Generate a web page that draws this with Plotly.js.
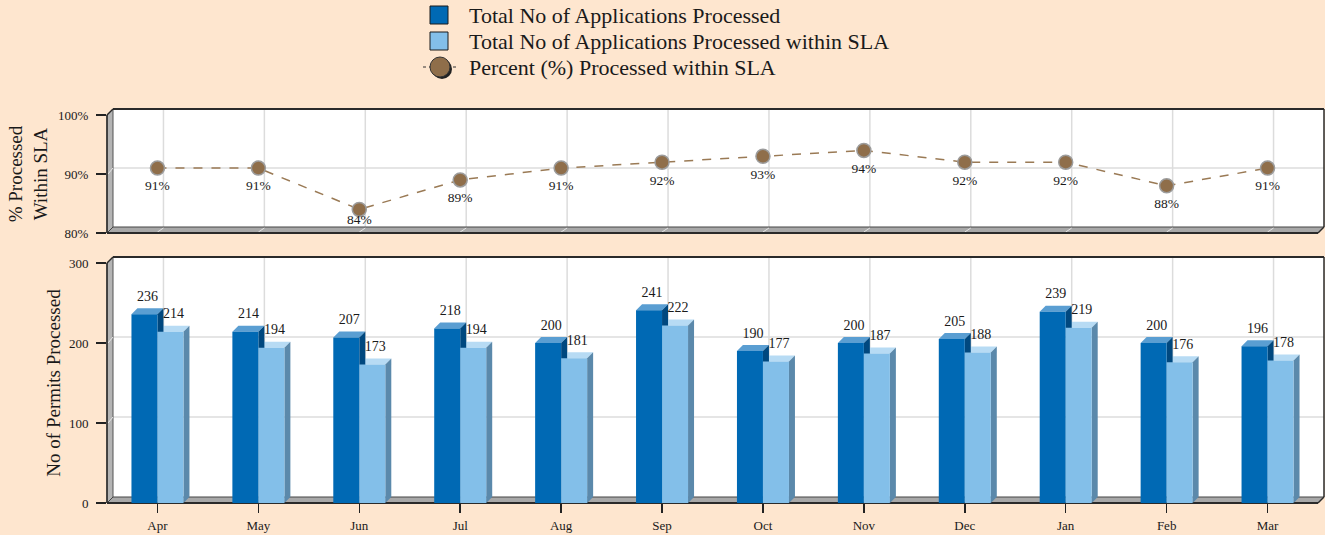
<!DOCTYPE html>
<html>
<head>
<meta charset="utf-8">
<script src="https://cdn.plot.ly/plotly-3.0.1.min.js"></script>
<style>
  html, body { margin: 0; padding: 0; background: #FEE6CF; }
  #chart { width: 1325px; height: 535px; }
</style>
</head>
<body>
<div id="chart"></div>
<script>
// ---- data ----
const months = ['Apr', 'May', 'Jun', 'Jul', 'Aug', 'Sep', 'Oct', 'Nov', 'Dec', 'Jan', 'Feb', 'Mar'];
const totalProcessed = [236, 214, 207, 218, 200, 241, 190, 200, 205, 239, 200, 196];
const processedWithinSLA = [214, 194, 173, 194, 181, 222, 177, 187, 188, 219, 176, 178];
const pctWithinSLA = [91, 91, 84, 89, 91, 92, 93, 94, 92, 92, 88, 91];
const seriesNames = ['Total No of Applications Processed', 'Total No of Applications Processed within SLA', 'Percent (%) Processed within SLA'];
const barTicks = [0, 100, 200, 300];
const pctTicks = [80, 90, 100];
const pctTickText = ['80%', '90%', '100%'];

// ---- layout geometry ----
const W = 1325, H = 535, ML = 107, MR = 7, MT = 115, MB = 32;
const PW = W - ML - MR, PH = H - MT - MB;
const D = 6; // 3D depth in px
const FONT = 'Liberation Serif, Times New Roman, serif';
const idx = months.map((m, i) => i);

const L = ML, R = W - MR;
const botPanel = { T: 263, B: 503, r0: 0, r1: 300 };
const topPanel = { T: 115, B: 233, r0: 80, r1: 100 };
const px2x = px => (px - ML) / PW;
const py2y = py => (H - MB - py) / PH;

const pxPerX = PW / 12;
const pxPerB = (botPanel.B - botPanel.T) / (botPanel.r1 - botPanel.r0);
const pxPerT = (topPanel.B - topPanel.T) / (topPanel.r1 - topPanel.r0);
const dx = D / pxPerX;
const dyB = D / pxPerB;
const dyT = D / pxPerT;
const bw = 26 / pxPerX;

const C = {
  darkFront: '#0069B4', darkTop: '#5A9ED2', darkSide: '#00487F',
  lightFront: '#83BFE9', lightTop: '#B7DBF4', lightSide: '#5B89AB',
  grid: '#DCDCDC', wall: '#B4B4B4', floor: '#A8A8A8', edge: '#2A2A2A',
  lineCol: '#9A7A55', markerCol: '#8F6E4A'
};

function P(x, y) { return px2x(x) + ',' + py2y(y); }

const shapes = [];
function panelFrame(p, xref, yref, gridVals, dy) {
  const T = p.T, B = p.B;
  shapes.push({ type: 'rect', xref: 'paper', yref: 'paper', layer: 'below',
    x0: px2x(L + D), x1: px2x(R + D), y0: py2y(B - D), y1: py2y(T - D),
    fillcolor: '#FFFFFF', line: { width: 0 } });
  gridVals.forEach(v => {
    shapes.push({ type: 'line', xref: 'paper', yref: yref, layer: 'below',
      x0: px2x(L + D), x1: px2x(R + D), y0: v + dy, y1: v + dy,
      line: { color: C.grid, width: 1.5 } });
  });
  idx.forEach(i => {
    shapes.push({ type: 'line', xref: xref, yref: 'paper', layer: 'below',
      x0: i + dx, x1: i + dx, y0: py2y(B - D), y1: py2y(T - D),
      line: { color: C.grid, width: 1.5 } });
  });
  shapes.push({ type: 'path', xref: 'paper', yref: 'paper', layer: 'below',
    path: 'M' + P(L, B) + 'L' + P(L, T) + 'L' + P(L + D, T - D) + 'L' + P(L + D, B - D) + 'Z',
    fillcolor: C.wall, line: { color: '#555', width: 1 } });
  gridVals.forEach(v => {
    shapes.push({ type: 'path', xref: 'paper', yref: yref, layer: 'below',
      path: 'M' + px2x(L + 1) + ',' + v + 'L' + px2x(L + D) + ',' + (v + dy),
      line: { color: '#E6E6E6', width: 1 } });
  });
  shapes.push({ type: 'path', xref: 'paper', yref: 'paper', layer: 'below',
    path: 'M' + P(L, B) + 'L' + P(R, B) + 'L' + P(R + D, B - D) + 'L' + P(L + D, B - D) + 'Z',
    fillcolor: C.floor, line: { color: '#444', width: 1 } });
  idx.forEach(i => {
    shapes.push({ type: 'line', xref: xref, yref: 'paper', layer: 'below',
      x0: i, x1: i + dx, y0: py2y(B - 1), y1: py2y(B - D + 1),
      line: { color: '#E4E4E4', width: 1 } });
  });
  const edge = (x0, y0, x1, y1, w) => shapes.push({ type: 'line', xref: 'paper', yref: 'paper', layer: 'below',
    x0: px2x(x0), y0: py2y(y0), x1: px2x(x1), y1: py2y(y1), line: { color: C.edge, width: w } });
  edge(L, B, R, B, 2);
  edge(L, T, L, B, 1.5);
  edge(L, T, L + D, T - D, 1.5);
  edge(L + D, T - D, R + D, T - D, 2);
  edge(R + D, T - D, R + D, B - D, 1.5);
  edge(R, B, R + D, B - D, 1.5);
}

panelFrame(botPanel, 'x', 'y', [100, 200], dyB);
panelFrame(topPanel, 'x2', 'y2', [90], dyT);

function barFaces(vals, off, topCol, sideCol) {
  vals.forEach((v, i) => {
    const x0 = i + off, x1 = i + off + bw;
    shapes.push({ type: 'path', xref: 'x', yref: 'y', layer: 'below',
      path: 'M' + x0 + ',' + v + 'L' + x1 + ',' + v + 'L' + (x1 + dx) + ',' + (v + dyB) + 'L' + (x0 + dx) + ',' + (v + dyB) + 'Z',
      fillcolor: topCol, line: { width: 0 } });
    shapes.push({ type: 'path', xref: 'x', yref: 'y', layer: 'below',
      path: 'M' + x1 + ',0L' + (x1 + dx) + ',' + dyB + 'L' + (x1 + dx) + ',' + (v + dyB) + 'L' + x1 + ',' + v + 'Z',
      fillcolor: sideCol, line: { width: 0 } });
  });
}
barFaces(processedWithinSLA, 0, C.lightTop, C.lightSide);
barFaces(totalProcessed, -bw, C.darkTop, C.darkSide);

// ---- custom legend (paper coordinates) ----
const annotations = [];
const legendRows = [15, 41, 67];
const legX = 467;
[C.darkFront, C.lightFront].forEach((col, k) => {
  const cy = legendRows[k];
  shapes.push({ type: 'rect', xref: 'paper', yref: 'paper', layer: 'above',
    x0: px2x(430), x1: px2x(448), y0: py2y(cy + 9), y1: py2y(cy - 9),
    fillcolor: col, line: { color: '#1a1a1a', width: 1 } });
});
{
  const cy = legendRows[2];
  shapes.push({ type: 'line', xref: 'paper', yref: 'paper', layer: 'above',
    x0: px2x(423), x1: px2x(458), y0: py2y(cy), y1: py2y(cy),
    line: { color: '#333', width: 1, dash: 'dot' } });
  shapes.push({ type: 'circle', xref: 'paper', yref: 'paper', layer: 'above',
    x0: px2x(432), x1: px2x(452), y0: py2y(cy + 12), y1: py2y(cy - 8),
    fillcolor: '#222', line: { width: 0 } });
  shapes.push({ type: 'circle', xref: 'paper', yref: 'paper', layer: 'above',
    x0: px2x(430), x1: px2x(450), y0: py2y(cy + 10), y1: py2y(cy - 10),
    fillcolor: C.markerCol, line: { color: '#333', width: 1 } });
}
seriesNames.forEach((name, k) => {
  annotations.push({ xref: 'paper', yref: 'paper', x: px2x(legX), y: py2y(legendRows[k]),
    xanchor: 'left', yanchor: 'middle', showarrow: false, text: name,
    font: { family: FONT, size: 22, color: '#1a1a1a' } });
});

// label positions for the percent series (kept clear of the floor)
const pctLabelY = pctWithinSLA.map(v => Math.max(v - 19 / pxPerT, topPanel.r0 + 12 / pxPerT));

const traces = [
  { type: 'bar', name: seriesNames[0], x: idx, y: totalProcessed, width: bw, offset: -bw,
    marker: { color: C.darkFront, line: { width: 0 } }, xaxis: 'x', yaxis: 'y' },
  { type: 'bar', name: seriesNames[1], x: idx, y: processedWithinSLA, width: bw, offset: 0,
    marker: { color: C.lightFront, line: { width: 0 } }, xaxis: 'x', yaxis: 'y' },
  { type: 'scatter', mode: 'text', x: idx.map(i => i - bw / 2 + dx / 2), y: totalProcessed.map(v => v + 17 / pxPerB),
    text: totalProcessed.map(String), textposition: 'middle center', cliponaxis: false,
    textfont: { family: FONT, size: 14, color: '#1a1a1a' }, hoverinfo: 'skip', xaxis: 'x', yaxis: 'y' },
  { type: 'scatter', mode: 'text', x: idx.map(i => i + bw / 2 + dx / 2), y: processedWithinSLA.map(v => v + 17 / pxPerB),
    text: processedWithinSLA.map(String), textposition: 'middle center', cliponaxis: false,
    textfont: { family: FONT, size: 14, color: '#1a1a1a' }, hoverinfo: 'skip', xaxis: 'x', yaxis: 'y' },
  { type: 'scatter', mode: 'lines+markers', name: seriesNames[2], x: idx, y: pctWithinSLA,
    line: { color: C.lineCol, width: 1.5, dash: 'dash' },
    marker: { size: 14, color: C.markerCol, line: { color: '#9C9C9C', width: 1.5 } },
    cliponaxis: false, xaxis: 'x2', yaxis: 'y2' },
  { type: 'scatter', mode: 'text', x: idx, y: pctLabelY,
    text: pctWithinSLA.map(v => v + '%'), textposition: 'middle center', cliponaxis: false,
    textfont: { family: FONT, size: 13.5, color: '#1a1a1a' }, hoverinfo: 'skip', xaxis: 'x2', yaxis: 'y2' }
];

const layout = {
  width: W, height: H,
  margin: { l: ML, r: MR, t: MT, b: MB, pad: 0 },
  paper_bgcolor: '#FEE6CF', plot_bgcolor: 'rgba(0,0,0,0)',
  font: { family: FONT, color: '#1a1a1a' },
  barmode: 'overlay',
  showlegend: false,
  xaxis: { range: [-0.5, 11.5], tickvals: idx, ticktext: months, ticks: 'outside', ticklen: 9,
    tickcolor: '#222', tickwidth: 1.5, showgrid: false, zeroline: false, showline: false,
    tickfont: { family: FONT, size: 13 }, ticklabelstandoff: 1, anchor: 'y', fixedrange: true, automargin: false },
  xaxis2: { range: [-0.5, 11.5], matches: 'x', anchor: 'y2', showticklabels: false, ticks: '',
    showgrid: false, zeroline: false, showline: false, fixedrange: true, automargin: false },
  yaxis: { domain: [0, (botPanel.B - botPanel.T) / PH], range: [0, 300], tickvals: barTicks,
    ticks: 'outside', ticklen: 10, tickcolor: '#222', tickwidth: 1.5, showgrid: false, zeroline: false,
    showline: false, tickfont: { family: FONT, size: 13 }, ticklabelstandoff: 5, fixedrange: true, automargin: false,
    title: { text: 'No of Permits Processed', font: { family: FONT, size: 19 }, standoff: 3 } },
  yaxis2: { domain: [(H - MB - topPanel.B) / PH, 1], range: [80, 100], tickvals: pctTicks, ticktext: pctTickText,
    ticks: 'outside', ticklen: 10, tickcolor: '#222', tickwidth: 1.5, showgrid: false, zeroline: false,
    showline: false, tickfont: { family: FONT, size: 13 }, ticklabelstandoff: 5, fixedrange: true, automargin: false,
    title: { text: '% Processed<br>Within SLA', font: { family: FONT, size: 19 }, standoff: 5 } },
  shapes: shapes,
  annotations: annotations
};

Plotly.newPlot('chart', traces, layout, { displayModeBar: false, staticPlot: true });
</script>
</body>
</html>
